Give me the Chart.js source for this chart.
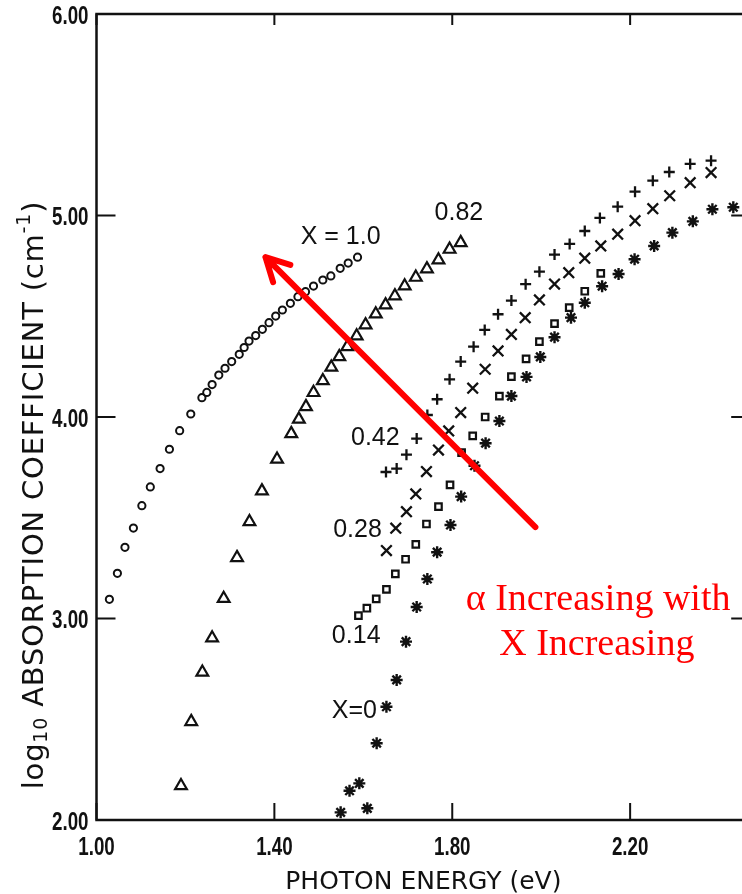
<!DOCTYPE html>
<html>
<head>
<meta charset="utf-8">
<title>Absorption coefficient vs photon energy</title>
<script src="https://cdn.jsdelivr.net/npm/chart.js@4.4.0/dist/chart.umd.min.js"></script>
<style>
  html, body { margin: 0; padding: 0; background: #fff; }
  #wrap { width: 742px; height: 894px; overflow: hidden; position: relative; }
  #wrap canvas { position: absolute; left: 0; top: 0; }
</style>
</head>
<body>
<div id="wrap"><canvas id="absChart" width="760" height="894"></canvas></div>
<script>
// 各组分 X 的光子能量 (eV) 与 log10 吸收系数 (cm^-1)
const energyX100 = [1.029, 1.047, 1.064, 1.083, 1.102, 1.121, 1.143, 1.164, 1.187, 1.212, 1.237, 1.248, 1.260, 1.275, 1.289, 1.304, 1.321, 1.332, 1.343, 1.358, 1.373, 1.388, 1.403, 1.418, 1.436, 1.453, 1.470, 1.488, 1.509, 1.527, 1.548, 1.566, 1.587];
const alphaX100 = [3.095, 3.224, 3.353, 3.449, 3.560, 3.653, 3.744, 3.840, 3.932, 4.015, 4.096, 4.122, 4.161, 4.208, 4.242, 4.275, 4.311, 4.345, 4.377, 4.404, 4.435, 4.468, 4.501, 4.531, 4.564, 4.597, 4.622, 4.650, 4.680, 4.700, 4.738, 4.764, 4.793];

const energyX082 = [1.190, 1.213, 1.238, 1.260, 1.286, 1.316, 1.344, 1.372, 1.406, 1.438, 1.455, 1.471, 1.488, 1.509, 1.528, 1.546, 1.564, 1.585, 1.605, 1.628, 1.650, 1.671, 1.693, 1.718, 1.743, 1.769, 1.794, 1.819];
const alphaX082 = [2.170, 2.488, 2.733, 2.903, 3.099, 3.302, 3.480, 3.633, 3.790, 3.917, 3.989, 4.051, 4.121, 4.180, 4.247, 4.299, 4.349, 4.402, 4.457, 4.511, 4.556, 4.601, 4.650, 4.693, 4.735, 4.779, 4.832, 4.865];

const energyX042 = [1.651, 1.675, 1.697, 1.720, 1.744, 1.766, 1.794, 1.819, 1.848, 1.873, 1.903, 1.933, 1.965, 1.996, 2.030, 2.064, 2.098, 2.132, 2.172, 2.211, 2.251, 2.288, 2.335, 2.382];
const alphaX042 = [3.727, 3.744, 3.813, 3.893, 4.010, 4.088, 4.187, 4.275, 4.349, 4.432, 4.510, 4.578, 4.659, 4.721, 4.806, 4.859, 4.923, 4.988, 5.044, 5.118, 5.173, 5.216, 5.256, 5.272];

const energyX028 = [1.652, 1.673, 1.697, 1.718, 1.742, 1.769, 1.792, 1.819, 1.846, 1.874, 1.903, 1.933, 1.964, 1.996, 2.030, 2.062, 2.098, 2.134, 2.172, 2.211, 2.251, 2.289, 2.335, 2.382];
const alphaX028 = [3.337, 3.448, 3.530, 3.618, 3.729, 3.836, 3.931, 4.022, 4.143, 4.237, 4.328, 4.410, 4.493, 4.581, 4.660, 4.716, 4.788, 4.849, 4.907, 4.974, 5.034, 5.098, 5.163, 5.213];

const energyX014 = [1.589, 1.608, 1.629, 1.652, 1.672, 1.695, 1.718, 1.742, 1.769, 1.795, 1.821, 1.846, 1.874, 1.906, 1.933, 1.966, 1.996, 2.030, 2.063, 2.098, 2.134];
const alphaX014 = [3.014, 3.051, 3.097, 3.145, 3.221, 3.294, 3.368, 3.469, 3.555, 3.663, 3.823, 3.906, 4.000, 4.104, 4.200, 4.288, 4.374, 4.463, 4.543, 4.624, 4.713];

const energyX000 = [1.549, 1.569, 1.591, 1.609, 1.630, 1.652, 1.675, 1.696, 1.720, 1.744, 1.766, 1.796, 1.820, 1.850, 1.875, 1.906, 1.933, 1.967, 1.998, 2.030, 2.067, 2.098, 2.137, 2.174, 2.210, 2.254, 2.295, 2.341, 2.385, 2.432];
const alphaX000 = [2.038, 2.145, 2.182, 2.058, 2.381, 2.562, 2.695, 2.885, 3.057, 3.196, 3.329, 3.464, 3.605, 3.758, 3.870, 3.980, 4.104, 4.199, 4.298, 4.396, 4.493, 4.567, 4.649, 4.710, 4.783, 4.849, 4.915, 4.971, 5.031, 5.041];

// 坐标轴范围与刻度
const energyRange = [1.0, 2.47];
const alphaRange = [2.0, 6.0];
const energyTicks = [1.0, 1.4, 1.8, 2.2];
const alphaTicks = [2, 3, 4, 5, 6];

// 曲线旁的组分标注（数据坐标）
const curveLabels = [
  { text: 'X = 1.0', e: 1.549, a: 4.893 },
  { text: '0.82', e: 1.815, a: 5.012 },
  { text: '0.42', e: 1.627, a: 3.896 },
  { text: '0.28', e: 1.587, a: 3.439 },
  { text: '0.14', e: 1.584, a: 2.913 },
  { text: 'X=0', e: 1.580, a: 2.541 }
];

// 红色箭头：从尾到头（数据坐标）
const trendArrow = { from: { e: 1.987, a: 3.454 }, to: { e: 1.380, a: 4.793 } };
const trendNote = [
  { text: '\u03b1 Increasing with', e: 2.128, a: 3.092 },
  { text: 'X Increasing', e: 2.125, a: 2.869 }
];

const INK = '#111';
const RED = '#ff0000';

function toPoints(energy, alpha) {
  return energy.map((e, i) => ({ x: e, y: alpha[i] }));
}

function series(label, energy, alpha, pointStyle, radius, width) {
  return {
    label: label,
    data: toPoints(energy, alpha),
    pointStyle: pointStyle,
    pointRadius: radius,
    pointBorderWidth: width,
    pointBorderColor: INK,
    pointBackgroundColor: 'rgba(0,0,0,0)',
    showLine: false
  };
}

// 窄体刻度数字
function drawNarrow(ctx, text, px, py, align) {
  ctx.save();
  ctx.translate(px, py);
  ctx.scale(0.75, 1);
  ctx.textAlign = align;
  ctx.fillText(text, 0, 0);
  ctx.restore();
}

// 边框、向内的刻度线和刻度数字
const framePlugin = {
  id: 'frame',
  afterDatasetsDraw(chart) {
    const { ctx, chartArea: a, scales: { x, y } } = chart;
    ctx.save();
    ctx.strokeStyle = INK;
    ctx.lineWidth = 2.5;
    ctx.strokeRect(a.left, a.top, a.right - a.left, a.bottom - a.top);
    ctx.lineWidth = 2;
    ctx.beginPath();
    x.ticks.forEach((t) => {
      const px = x.getPixelForValue(t.value);
      ctx.moveTo(px, a.bottom);
      ctx.lineTo(px, a.bottom - 17);
      ctx.moveTo(px, a.top);
      ctx.lineTo(px, a.top + 11);
    });
    y.ticks.forEach((t) => {
      const py = y.getPixelForValue(t.value);
      ctx.moveTo(a.left, py);
      ctx.lineTo(a.left + 19, py);
      ctx.moveTo(a.right, py);
      ctx.lineTo(a.right - 19, py);
    });
    ctx.stroke();

    ctx.fillStyle = INK;
    ctx.font = "bold 25px 'Liberation Sans', sans-serif";
    ctx.textBaseline = 'middle';
    x.ticks.forEach((t) => {
      drawNarrow(ctx, t.value.toFixed(2), x.getPixelForValue(t.value), a.bottom + 28, 'center');
    });
    y.ticks.forEach((t) => {
      drawNarrow(ctx, t.value.toFixed(2), a.left - 8, y.getPixelForValue(t.value) + 3, 'right');
    });
    ctx.restore();
  }
};

// 组分标注、趋势箭头、y 轴标题
const notePlugin = {
  id: 'notes',
  afterDraw(chart) {
    const { ctx, scales: { x, y } } = chart;
    ctx.save();
    ctx.fillStyle = INK;
    ctx.textAlign = 'center';
    ctx.textBaseline = 'middle';
    ctx.font = "25px 'Liberation Sans', sans-serif";
    curveLabels.forEach((l) => {
      ctx.fillText(l.text, x.getPixelForValue(l.e), y.getPixelForValue(l.a));
    });

    // 箭头
    const x0 = x.getPixelForValue(trendArrow.from.e);
    const y0 = y.getPixelForValue(trendArrow.from.a);
    const x1 = x.getPixelForValue(trendArrow.to.e);
    const y1 = y.getPixelForValue(trendArrow.to.a);
    const ang = Math.atan2(y0 - y1, x0 - x1);
    const head = 26;
    const spread = 28 * Math.PI / 180;
    ctx.strokeStyle = RED;
    ctx.lineWidth = 6;
    ctx.lineCap = 'round';
    ctx.lineJoin = 'round';
    ctx.beginPath();
    ctx.moveTo(x0, y0);
    ctx.lineTo(x1, y1);
    ctx.moveTo(x1 + head * Math.cos(ang - spread), y1 + head * Math.sin(ang - spread));
    ctx.lineTo(x1, y1);
    ctx.lineTo(x1 + head * Math.cos(ang + spread), y1 + head * Math.sin(ang + spread));
    ctx.stroke();

    ctx.fillStyle = RED;
    ctx.font = "38px 'Liberation Serif', serif";
    trendNote.forEach((l) => {
      ctx.fillText(l.text, x.getPixelForValue(l.e), y.getPixelForValue(l.a));
    });

    // y 轴标题（含上下标）
    const big = "29px 'DejaVu Sans', sans-serif";
    const small = "19px 'DejaVu Sans', sans-serif";
    const parts = [
      { t: 'log', f: big, dy: 0 },
      { t: '10', f: small, dy: 7 },
      { t: ' ABSORPTION COEFFICIENT (cm', f: big, dy: 0 },
      { t: '-1', f: small, dy: -10 },
      { t: ')', f: big, dy: 0 }
    ];
    ctx.letterSpacing = '0.8px';
    let total = 0;
    parts.forEach((p) => { ctx.font = p.f; p.w = ctx.measureText(p.t).width; total += p.w; });
    ctx.fillStyle = INK;
    ctx.translate(35, 495);
    ctx.rotate(-Math.PI / 2);
    ctx.textAlign = 'left';
    let cx = -total / 2;
    parts.forEach((p) => {
      ctx.font = p.f;
      ctx.fillText(p.t, cx, p.dy);
      cx += p.w;
    });
    ctx.restore();
  }
};

function renderChart() {
  const ctx = document.getElementById('absChart');
  new Chart(ctx, {
    type: 'scatter',
    data: {
      datasets: [
        series('X=1.0', energyX100, alphaX100, 'circle', 3.6, 2),
        series('X=0.82', energyX082, alphaX082, 'triangle', 6.8, 2.2),
        series('X=0.42', energyX042, alphaX042, 'cross', 5.5, 2.3),
        series('X=0.28', energyX028, alphaX028, 'crossRot', 7.5, 2.3),
        series('X=0.14', energyX014, alphaX014, 'rect', 4.6, 2.2),
        series('X=0', energyX000, alphaX000, 'star', 6, 2.4)
      ]
    },
    options: {
      responsive: false,
      animation: false,
      events: [],
      layout: { padding: { top: 14, right: 5, left: 0, bottom: 0 } },
      plugins: {
        legend: { display: false },
        tooltip: { enabled: false }
      },
      scales: {
        x: {
          type: 'linear',
          min: energyRange[0],
          max: energyRange[1],
          grid: { display: false, drawTicks: false },
          border: { display: false },
          ticks: { display: false },
          afterBuildTicks(scale) { scale.ticks = energyTicks.map((v) => ({ value: v })); },
          title: {
            display: true,
            text: 'PHOTON ENERGY (eV)',
            color: INK,
            font: { family: "'DejaVu Sans', sans-serif", size: 25 },
            padding: { top: 0, bottom: -3 }
          },
          afterFit(scale) { scale.height = 74; }
        },
        y: {
          type: 'linear',
          min: alphaRange[0],
          max: alphaRange[1],
          grid: { display: false, drawTicks: false },
          border: { display: false },
          ticks: { display: false },
          afterBuildTicks(scale) { scale.ticks = alphaTicks.map((v) => ({ value: v })); },
          afterFit(scale) { scale.width = 96.5; }
        }
      }
    },
    plugins: [framePlugin, notePlugin]
  });
}

window.addEventListener('DOMContentLoaded', renderChart);
</script>
</body>
</html>
